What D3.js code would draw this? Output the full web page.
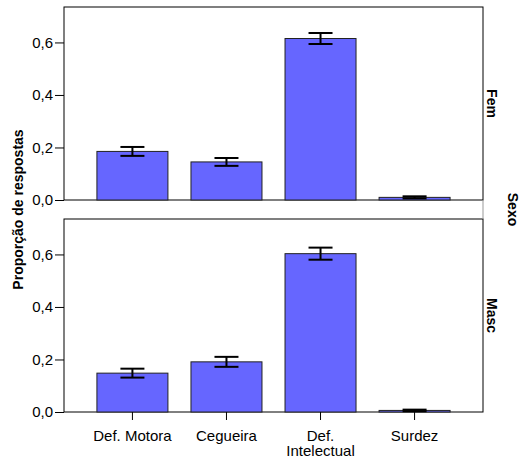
<!DOCTYPE html>
<html>
<head>
<meta charset="utf-8">
<script src="https://cdn.jsdelivr.net/npm/d3@7"></script>
<style>
  html, body { margin: 0; padding: 0; background: #fff; }
  svg { display: block; font-family: "Liberation Sans", Arial, sans-serif; }
</style>
</head>
<body>
<div id="chart"></div>
<script>
// ------------------------------------------------------------------ DATA
const categories = ['Def. Motora', 'Cegueira', 'Def. Intelectual', 'Surdez'];
const sexes      = ['Fem', 'Masc'];
const femValues  = [0.185, 0.145, 0.615, 0.010];
const femErrors  = [0.017, 0.015, 0.021, 0.004];
const mascValues = [0.148, 0.191, 0.603, 0.006];
const mascErrors = [0.017, 0.019, 0.023, 0.003];
const yTicks     = [0, 0.2, 0.4, 0.6];

const panels = [
  { sexo: sexes[0], values: femValues,  errors: femErrors,  top: 7,   bottom: 200 },
  { sexo: sexes[1], values: mascValues, errors: mascErrors, top: 219, bottom: 412 }
];

const width = 524, height = 462;
const left = 64, right = 483;
const fontSize = 15;

const svg = d3.select('#chart').append('svg')
  .attr('width', width)
  .attr('height', height);

// ------------------------------------------------------------------ SCALES
const x = d3.scaleBand()
  .domain(categories)
  .range([left, right])
  .paddingInner(0.245)
  .paddingOuter(0.35);

const fmt = v => d3.format('.1f')(v).replace('.', ',');
const capW = 24;

// ------------------------------------------------------------------ PANELS
panels.forEach((p, pi) => {
  const y = d3.scaleLinear().domain([0, 0.735]).range([p.bottom, p.top]);
  const g = svg.append('g');

  // frame
  g.append('rect')
    .attr('x', left).attr('y', p.top)
    .attr('width', right - left).attr('height', p.bottom - p.top)
    .attr('fill', 'none').attr('stroke', '#000').attr('stroke-width', 1);

  // y axis
  const yAxis = g.append('g')
    .attr('transform', `translate(${left},0)`)
    .call(d3.axisLeft(y).tickValues(yTicks).tickFormat(fmt).tickSize(9).tickPadding(2));
  yAxis.select('.domain').remove();
  yAxis.selectAll('text').attr('font-size', fontSize).attr('fill', '#000')
    .attr('font-family', '"Liberation Sans", Arial, sans-serif');
  yAxis.selectAll('line').attr('stroke', '#000');

  const data = categories.map((c, i) => ({ c, v: p.values[i], e: p.errors[i] }));

  // bars
  g.selectAll('rect.bar')
    .data(data)
    .join('rect')
    .attr('class', 'bar')
    .attr('x', d => x(d.c))
    .attr('y', d => y(d.v))
    .attr('width', x.bandwidth())
    .attr('height', d => y(0) - y(d.v))
    .attr('fill', '#6666ff')
    .attr('stroke', '#222')
    .attr('stroke-width', 1);

  // error bars
  const eb = g.selectAll('g.err')
    .data(data)
    .join('g')
    .attr('class', 'err')
    .attr('stroke', '#000')
    .attr('stroke-width', 2);
  eb.append('line')
    .attr('x1', d => x(d.c) + x.bandwidth() / 2)
    .attr('x2', d => x(d.c) + x.bandwidth() / 2)
    .attr('y1', d => y(d.v + d.e))
    .attr('y2', d => y(d.v - d.e));
  eb.append('line')
    .attr('x1', d => x(d.c) + x.bandwidth() / 2 - capW / 2)
    .attr('x2', d => x(d.c) + x.bandwidth() / 2 + capW / 2)
    .attr('y1', d => y(d.v + d.e))
    .attr('y2', d => y(d.v + d.e));
  eb.append('line')
    .attr('x1', d => x(d.c) + x.bandwidth() / 2 - capW / 2)
    .attr('x2', d => x(d.c) + x.bandwidth() / 2 + capW / 2)
    .attr('y1', d => y(Math.max(0, d.v - d.e)))
    .attr('y2', d => y(Math.max(0, d.v - d.e)));

  // facet label
  g.append('text')
    .attr('transform', `translate(492,${(p.top + p.bottom) / 2}) rotate(90)`)
    .attr('text-anchor', 'middle')
    .attr('dy', '0.35em')
    .attr('font-size', 14)
    .attr('font-weight', 'bold')
    .text(p.sexo);

  // x axis on the last panel
  if (pi === panels.length - 1) {
    const xAxis = g.append('g')
      .attr('transform', `translate(0,${p.bottom})`)
      .call(d3.axisBottom(x).tickSize(8).tickPadding(10));
    xAxis.select('.domain').remove();
    xAxis.selectAll('line').attr('stroke', '#000');
    xAxis.selectAll('text')
      .attr('font-size', fontSize).attr('fill', '#000')
      .attr('font-family', '"Liberation Sans", Arial, sans-serif')
      .each(function (d) {
        const t = d3.select(this);
        if (this.getComputedTextLength() > x.step()) {
          const words = d.split(' ');
          const first = words.shift();
          t.text(null);
          t.append('tspan').attr('x', 0).attr('dy', '0.71em').text(first);
          t.append('tspan').attr('x', 0).attr('dy', '1.05em').text(words.join(' '));
          t.attr('dy', null);
        }
      });
  }
});

// gray connector on the right between the panels
svg.append('line')
  .attr('x1', right).attr('x2', right)
  .attr('y1', panels[0].bottom).attr('y2', panels[1].top)
  .attr('stroke', '#999');

// ------------------------------------------------------------------ TITLES
svg.append('text')
  .attr('transform', `translate(18,${(panels[0].top + panels[1].bottom) / 2}) rotate(-90)`)
  .attr('text-anchor', 'middle')
  .attr('dy', '0.35em')
  .attr('font-size', 14)
  .attr('font-weight', 'bold')
  .text('Proporção de respostas');

svg.append('text')
  .attr('transform', `translate(513,${(panels[0].top + panels[1].bottom) / 2}) rotate(90)`)
  .attr('text-anchor', 'middle')
  .attr('dy', '0.35em')
  .attr('font-size', 14)
  .attr('font-weight', 'bold')
  .text('Sexo');
</script>
</body>
</html>
